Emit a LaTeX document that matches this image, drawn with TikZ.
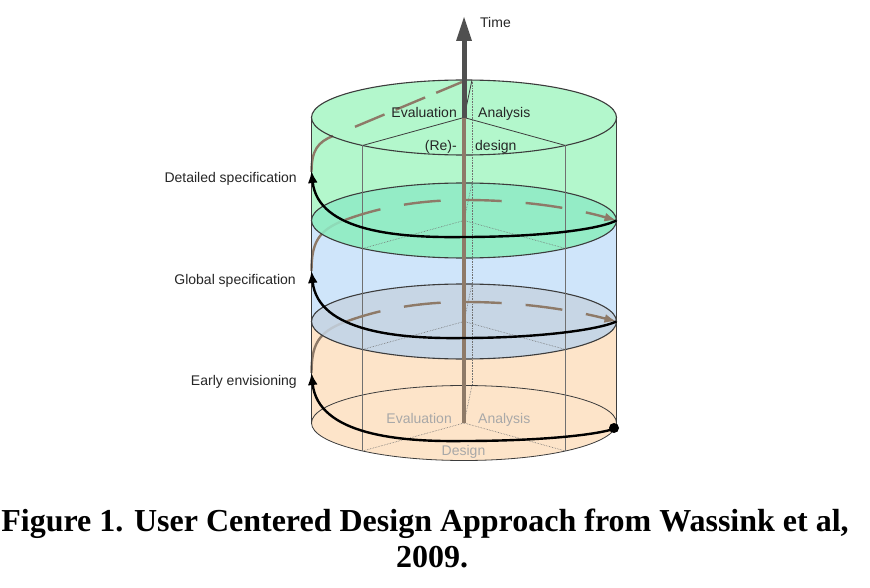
\documentclass[tikz,border=0pt]{standalone}
\usepackage{fontspec}
\setmainfont{Liberation Serif}
\setsansfont{Liberation Sans}
\usetikzlibrary{arrows.meta}
\definecolor{bandgreen}{HTML}{B3F7CC}
\definecolor{tealface}{HTML}{8FEBC6}
\definecolor{bandblue}{HTML}{CFE5FA}
\definecolor{grayface}{HTML}{C6D4E2}
\definecolor{bandpeach}{HTML}{FDE4C9}
\definecolor{helixbrown}{HTML}{8E7A68}
\definecolor{shaftgray}{HTML}{505050}
\definecolor{outl}{HTML}{3C3C3C}
\definecolor{edgegray}{HTML}{707070}
\definecolor{faintlbl}{HTML}{A8A8A8}
\begin{document}
\begin{tikzpicture}[x=1pt,y=-1pt,
  er/.style={x radius=152.5,y radius=37.5},
  rim/.style={draw=outl,line width=1.1pt},
  thinrim/.style={draw=outl,line width=0.8pt},
  dotsec/.style={draw=edgegray,line width=0.6pt,densely dotted},
  solsec/.style={draw=outl,line width=0.8pt},
  edgeline/.style={draw=edgegray,line width=0.9pt},
  brownsolid/.style={draw=helixbrown,line width=2.4pt},
  browndash/.style={draw=helixbrown,line width=2.4pt,dash pattern=on 37pt off 24pt},
  frontcurve/.style={draw=black,line width=2.4pt,-{Latex[length=12pt,width=10pt]}},
  lbl/.style={font=\fontsize{14}{16}\selectfont\sffamily,text=black!85,inner sep=0pt},
  faint/.style={font=\fontsize{14}{16}\selectfont\sffamily,text=faintlbl,inner sep=0pt},
  captext/.style={font=\fontsize{32}{36}\selectfont\bfseries,text=black,inner sep=0pt}]
\fill[white] (0,0) rectangle (870,588);
\useasboundingbox (0,0) rectangle (870,588);
% coloured bands
\fill[bandpeach] (311.5,321.5) -- (311.5,423) arc[start angle=180,end angle=0,er] -- (616.5,321.5) -- cycle;
\fill[bandblue] (311.5,220.5) -- (311.5,321.5) arc[start angle=180,end angle=0,er] -- (616.5,220.5) -- cycle;
\fill[bandgreen] (311.5,117.5) arc[start angle=180,end angle=360,er] -- (616.5,220.5) arc[start angle=0,end angle=180,er] -- cycle;
% brown helix, rising parts behind the faces
\draw[brownsolid] (311.5,373) .. controls (311.5,345) and (318,332) .. (345,322);
\draw[brownsolid] (311.5,271) .. controls (311.5,243) and (318,230) .. (345,220);
\draw[brownsolid] (311.5,172) .. controls (311.5,150) and (318,142) .. (333,136);
% bottom ellipse
\coordinate (c3) at (464,423);
\draw[thinrim] (c3) ellipse[er];
\draw[dotsec] (362.5,451) -- (c3) -- (565.5,451) (c3) -- (472,385.5);
% gray face
\coordinate (c2) at (464,321.5);
\filldraw[fill=grayface,fill opacity=0.85,rim] (c2) ellipse[er];
\draw[dotsec] (362.5,349.5) -- (c2) -- (565.5,349.5) (c2) -- (472,284);
% teal face
\coordinate (c1) at (464,220.5);
\filldraw[fill=tealface,fill opacity=0.85,rim] (c1) ellipse[er];
\draw[dotsec] (362.5,248.5) -- (c1) -- (565.5,248.5) (c1) -- (472,183);
% top ellipse
\coordinate (c0) at (464,117.5);
\draw[rim] (c0) ellipse[er];
\draw[solsec] (362.5,145.5) -- (c0) -- (565.5,145.5) (c0) -- (472,80);
% prism edges
\draw[edgeline] (362.5,145.5) -- (362.5,451) (565.5,145.5) -- (565.5,451);
\draw[dotsec] (472,80) -- (472,385.5);
% cylinder sides
\draw[rim] (311.5,117.5) -- (311.5,423) (616.5,117.5) -- (616.5,423);
% labels on the faces
\node[faint,anchor=base east] (ev0) at (452,423) {Evaluation};
\node[faint,anchor=base west] (an0) at (478,423) {Analysis};
\node[faint,anchor=base] (de0) at (463.5,455) {Design};
% time axis (brown part)
\draw[helixbrown,line width=4.5pt] (c3) -- (c0);
% brown helix, dashed parts across the back
\draw[browndash,-{Latex[length=12pt,width=9pt]}] (345,322) .. controls (380,309) and (420,302) .. (465,302) .. controls (530,302) and (580,312) .. (616.5,321.5);
\draw[browndash,-{Latex[length=12pt,width=9pt]}] (345,220) .. controls (380,207) and (420,200) .. (465,200) .. controls (530,200) and (580,210) .. (616.5,220.5);
\draw[browndash,dash pattern=on 32pt off 12pt] (355,126.8) -- (462,82);
% time arrow
\coordinate (tb) at (464,40);
\draw[shaftgray,line width=5pt] (464,118) -- (464,38);
\fill[shaftgray] (456,41) -- (464,17) -- (472,41) -- cycle;
\node[lbl,anchor=base west] (time) at (480,28) {Time};
% labels of top face
\node[lbl,anchor=base east] (ev1) at (457,118) {Evaluation};
\node[lbl,anchor=base west] (an1) at (478,118) {Analysis};
\node[lbl,anchor=base east] (re1) at (457,151) {(Re)-};
\node[lbl,anchor=base west] (de1) at (475,151) {design};
% black front curves
\draw[frontcurve] (616.5,428) .. controls (595,436) and (530,441) .. (464,441) .. controls (400,442) and (318,435) .. (311.5,373);
\draw[frontcurve] (616.5,321.5) .. controls (595,331) and (530,338) .. (464,338) .. controls (400,339) and (318,332) .. (311.5,271);
\draw[frontcurve] (616.5,220.5) .. controls (595,231) and (530,237) .. (464,237) .. controls (400,238) and (318,232) .. (311.5,171);
\fill[black] (614,428) circle[radius=5pt];
% left labels
\node[lbl,anchor=base east] (dspec) at (297,183) {Detailed specification};
\node[lbl,anchor=base east] (gspec) at (296,284) {Global specification};
\node[lbl,anchor=base east] (early) at (297,385) {Early envisioning};
% caption
\node[captext,anchor=base] (cap1) at (425,531) {Figure 1. User Centered Design Approach from Wassink et al,};
\node[captext,anchor=base] (cap2) at (432,567) {2009.};
\end{tikzpicture}
\end{document}
